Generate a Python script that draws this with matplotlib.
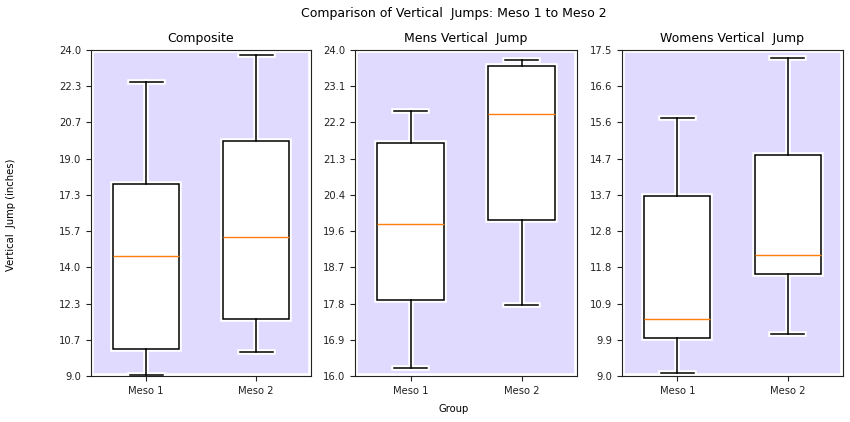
import numpy as np
import matplotlib
matplotlib.use("Agg")
import matplotlib.pyplot as plt

groups = ["Meso 1", "Meso 2"]
titles = ["Composite", "Mens Vertical  Jump", "Womens Vertical  Jump"]

# five-number summaries: [Meso 1, Meso 2]
comp_low = [9.03, 10.09]
comp_q1 = [10.23, 11.63]
comp_med = [14.52, 15.39]
comp_q3 = [17.82, 19.81]
comp_high = [22.53, 23.77]

mens_low = [16.19, 17.75]
mens_q1 = [17.87, 19.82]
mens_med = [19.72, 22.42]
mens_q3 = [21.73, 23.61]
mens_high = [22.50, 23.75]

womens_low = [9.08, 10.10]
womens_q1 = [9.98, 11.65]
womens_med = [10.48, 12.15]
womens_q3 = [13.69, 14.75]
womens_high = [15.73, 17.28]

y_ranges = [(9.0, 24.0), (16.0, 24.0), (9.0, 17.5)]

panels = [
    (comp_low, comp_q1, comp_med, comp_q3, comp_high),
    (mens_low, mens_q1, mens_med, mens_q3, mens_high),
    (womens_low, womens_q1, womens_med, womens_q3, womens_high),
]

bg = "#e0dafe"

fig = plt.figure(figsize=(8.5, 4.22), dpi=100)
lefts = [91 / 850, 355 / 850, 622 / 850]
widths = [220 / 850, 222 / 850, 221 / 850]
bottom = 46 / 422
height = 326 / 422

for i, (low, q1, med, q3, high) in enumerate(panels):
    ax = fig.add_axes([lefts[i], bottom, widths[i], height])
    ax.set_facecolor(bg)
    ax.patch.set_edgecolor("white")
    ax.patch.set_linewidth(4)

    stats = []
    for j, g in enumerate(groups):
        stats.append({"label": g, "whislo": low[j], "q1": q1[j], "med": med[j],
                      "q3": q3[j], "whishi": high[j], "fliers": []})

    # white halo pass, then the black boxes on top
    ax.bxp(stats, widths=0.6, patch_artist=True, showfliers=False, zorder=2,
           boxprops=dict(facecolor="white", edgecolor="white", linewidth=4),
           whiskerprops=dict(color="white", linewidth=4),
           capprops=dict(color="white", linewidth=4),
           medianprops=dict(color="white", linewidth=0))
    ax.bxp(stats, widths=0.6, patch_artist=True, showfliers=False, zorder=3,
           boxprops=dict(facecolor="white", edgecolor="black", linewidth=1.1),
           whiskerprops=dict(color="black", linewidth=1.1),
           capprops=dict(color="black", linewidth=1.1),
           medianprops=dict(color="#ff7f0e", linewidth=1.0))

    lo, hi = y_ranges[i]
    ax.set_ylim(lo, hi)
    ax.set_xlim(0.5, 2.5)
    ticks = np.linspace(lo, hi, 10)
    ax.set_yticks(ticks)
    ax.set_yticklabels(["%.1f" % t for t in ticks])
    ax.set_xticks([1, 2])
    ax.set_xticklabels(groups)
    ax.tick_params(labelsize=7.2, length=3.5, colors="#222222")
    ax.set_title(titles[i], fontsize=9)
    for s in ax.spines.values():
        s.set_color("#222222")
        s.set_zorder(5)

fig.text(454 / 850, 1 - 13 / 422, "Comparison of Vertical  Jumps: Meso 1 to Meso 2",
         ha="center", va="center", fontsize=9)
fig.text(454 / 850, 1 - 409 / 422, "Group", ha="center", va="center", fontsize=7.2)
fig.text(11 / 850, 1 - 215 / 422, "Vertical  Jump (inches)", ha="center", va="center",
         rotation=90, fontsize=7.2)

fig.savefig("out.png", dpi=100)
